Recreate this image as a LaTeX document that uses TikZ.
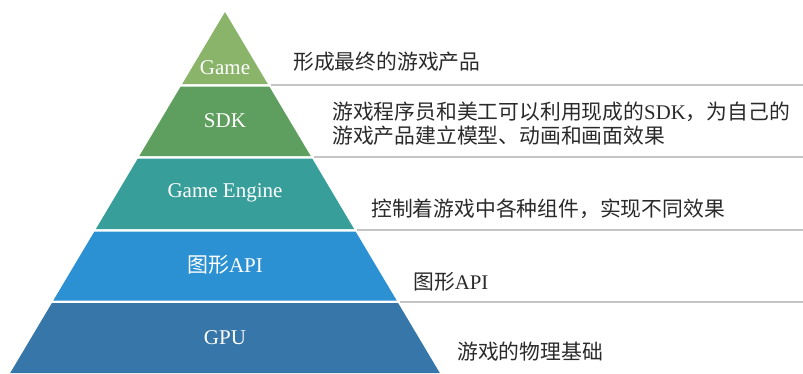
\documentclass[tikz,border=0pt]{standalone}
\usepackage{fontspec}
\setmainfont{Liberation Serif}
\newfontfamily\cjk{Noto Sans CJK SC}
\definecolor{cGame}{HTML}{8AB46A}
\definecolor{cSDK}{HTML}{5E9E5E}
\definecolor{cEng}{HTML}{379E9A}
\definecolor{cAPI}{HTML}{2B91D2}
\definecolor{cGPU}{HTML}{3776A8}
\definecolor{cRule}{HTML}{C4C4C4}
\definecolor{cText}{HTML}{2A2A2A}
\begin{document}
\begin{tikzpicture}[x=1pt,y=-1pt,
  lbl/.style={text=white, font=\fontsize{21}{25}\selectfont, inner sep=0pt},
  desc/.style={anchor=west, text=cText, font=\fontsize{20.8}{25}\selectfont, inner sep=0pt},
  rulestyle/.style={draw=cRule, line width=2pt}]
\useasboundingbox (0,0) rectangle (803,373);
% layers
\fill[cGame] (225,12) -- (267.8,84) -- (182.2,84) -- cycle;
\fill[cSDK] (180.7,86.5) -- (269.3,86.5) -- (310.7,156) -- (139.3,156) -- cycle;
\fill[cEng] (137.8,158.5) -- (312.2,158.5) -- (354.1,229) -- (95.9,229) -- cycle;
\fill[cAPI] (94.4,231.5) -- (355.6,231.5) -- (396.7,300.5) -- (53.3,300.5) -- cycle;
\fill[cGPU] (51.9,303) -- (398.1,303) -- (439.8,373) -- (10.2,373) -- cycle;
% rules
\draw[rulestyle] (271,84.5) -- (803,84.5);
\draw[rulestyle] (314,157) -- (803,157);
\draw[rulestyle] (357,229.5) -- (803,229.5);
\draw[rulestyle] (400,301.5) -- (803,301.5);
% layer labels
\node[lbl] (lGame) at (225,68) {Game};
\node[lbl] (lSDK) at (225,121) {SDK};
\node[lbl] (lEng) at (225,193) {Game Engine};
\node[lbl] (lAPI) at (225,265) {{\cjk 图形}API};
\node[lbl] (lGPU) at (225,338) {GPU};
% descriptions
\node[desc] (d1) at (293,62) {\cjk 形成最终的游戏产品};
\node[desc] (d2a) at (332,112) {{\cjk 游戏程序员和美工可以利用现成的}SDK{\cjk ，为自己的}};
\node[desc] (d2b) at (332,136) {\cjk 游戏产品建立模型、动画和画面效果};
\node[desc] (d3) at (371,209) {\cjk 控制着游戏中各种组件，实现不同效果};
\node[desc] (d4) at (413,282) {{\cjk 图形}API};
\node[desc] (d5) at (457,352) {\cjk 游戏的物理基础};
\end{tikzpicture}
\end{document}
